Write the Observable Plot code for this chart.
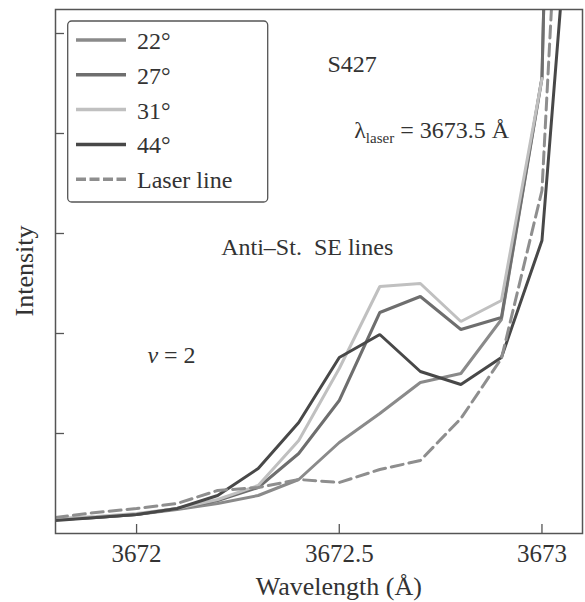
<!DOCTYPE html>
<html><head><meta charset="utf-8">
<script src="https://cdn.jsdelivr.net/npm/d3@7"></script>
<script src="https://cdn.jsdelivr.net/npm/@observablehq/plot@0.6"></script>
<style>
body{margin:0;background:#fff;}
</style>
</head><body><div id="chart"></div>
<script>
// Wavelength grid (Å)
const wavelengths = [3671.8, 3671.9, 3672.0, 3672.1, 3672.2, 3672.3, 3672.4, 3672.5, 3672.6, 3672.7, 3672.8, 3672.9, 3673.0, 3673.1];
// Intensity (arbitrary units) per observation angle
const s22   = [0.14, 0.16, 0.19, 0.24, 0.30, 0.38, 0.54, 0.91, 1.20, 1.51, 1.60, 2.14, 4.55, 20.8];
const s27   = [0.14, 0.16, 0.19, 0.25, 0.33, 0.46, 0.80, 1.33, 2.21, 2.37, 2.04, 2.16, 4.56, 20.8];
const s31   = [0.15, 0.17, 0.20, 0.25, 0.34, 0.48, 0.93, 1.65, 2.47, 2.50, 2.12, 2.33, 4.55];
const s44   = [0.13, 0.16, 0.19, 0.25, 0.38, 0.65, 1.11, 1.76, 1.99, 1.62, 1.49, 1.76, 2.93, 8.03];
const laser = [0.16, 0.21, 0.25, 0.30, 0.43, 0.46, 0.54, 0.51, 0.64, 0.73, 1.15, 1.75, 3.43, 11.2];

const seriesNames  = ["22°", "27°", "31°", "44°", "Laser line"];
const seriesValues = [s22, s27, s31, s44, laser];
const seriesColors = ["#8a8a8a", "#6e6e6e", "#c0c0c0", "#484848", "#8e8e8e"];
const seriesDash   = [null, null, null, null, "12,6"];

const xTicks = [3672, 3672.5, 3673];
const yTicks = [1, 2, 3, 4, 5];

const FONT = '"Liberation Serif", serif';

const lineMarks = seriesNames.map((name, i) =>
  Plot.line(seriesValues[i].map((v, j) => ({w: wavelengths[j], v})), {
    x: "w", y: "v",
    stroke: seriesColors[i],
    strokeWidth: 3,
    strokeDasharray: seriesDash[i],
    strokeLinejoin: "miter",
    clip: true
  })
);

const axisColor = "#555";
const textColor = "#333";

const plot = Plot.plot({
  width: 585,
  height: 602,
  marginLeft: 55,
  marginTop: 9,
  marginRight: 3,
  marginBottom: 69,
  x: {domain: [3671.8, 3673.1], label: null},
  y: {domain: [0, 5.24], label: null},
  style: {fontFamily: "Liberation Serif", color: textColor, background: "white", overflow: "visible"},
  marks: [
    ...lineMarks,
    Plot.axisX(xTicks, {tickSize: 9, dy: -9, text: null, label: null, stroke: axisColor, strokeWidth: 1.3}),
    Plot.axisX(xTicks, {tickSize: 0, tickPadding: 11, fontSize: 25, fill: textColor, tickFormat: d => String(d), label: null}),
    Plot.axisY(yTicks, {tickSize: 9, dx: 9, text: null, label: null, stroke: axisColor, strokeWidth: 1.3}),
    Plot.frame({stroke: axisColor, strokeWidth: 1.5})
  ]
});

document.getElementById("chart").appendChild(plot);

const svg = d3.select(plot);
const sx = plot.scale("x").apply, sy = plot.scale("y").apply;

function txt(sel) {
  return sel.append("text").attr("font-family", FONT).attr("fill", textColor).attr("text-anchor", "start");
}

// Axis titles
txt(svg).attr("x", sx(3672.5)).attr("y", 595)
  .attr("text-anchor", "middle").attr("font-size", 26)
  .text("Wavelength (Å)");
txt(svg).attr("transform", `translate(33,${(9 + 533) / 2}) rotate(-90)`)
  .attr("text-anchor", "middle").attr("font-size", 26)
  .text("Intensity");

// Annotations
function note(x, y, size) {
  return txt(svg).attr("x", sx(x)).attr("y", sy(y)).attr("font-size", size);
}
note(3672.472, 4.61, 24).text("S427");
const lam = note(3672.538, 3.95, 24);
lam.append("tspan").text("λ");
lam.append("tspan").attr("font-size", 15).attr("dy", 5).text("laser");
lam.append("tspan").attr("dy", -5).text(" = 3673.5 Å");
note(3672.21, 2.78, 24).text("Anti–St.\u00a0\u00a0SE lines");
const nu = note(3672.028, 1.70, 24);
nu.append("tspan").attr("font-style", "italic").text("v");
nu.append("tspan").text(" = 2");

// Legend
const lg = svg.append("g");
lg.append("rect").attr("x", 67.7).attr("y", 21).attr("width", 200).attr("height", 181)
  .attr("rx", 4).attr("fill", "white").attr("stroke", axisColor).attr("stroke-width", 1.3);
seriesNames.forEach((name, i) => {
  const yy = 40 + i * 34.8;
  lg.append("line").attr("x1", 76).attr("x2", 126).attr("y1", yy).attr("y2", yy)
    .attr("stroke", seriesColors[i]).attr("stroke-width", 3.5)
    .attr("stroke-dasharray", seriesDash[i] ? "10,3.5" : null);
  txt(lg).attr("x", 137).attr("y", yy + 9).attr("font-size", 24).text(name);
});
</script>
</body></html>
